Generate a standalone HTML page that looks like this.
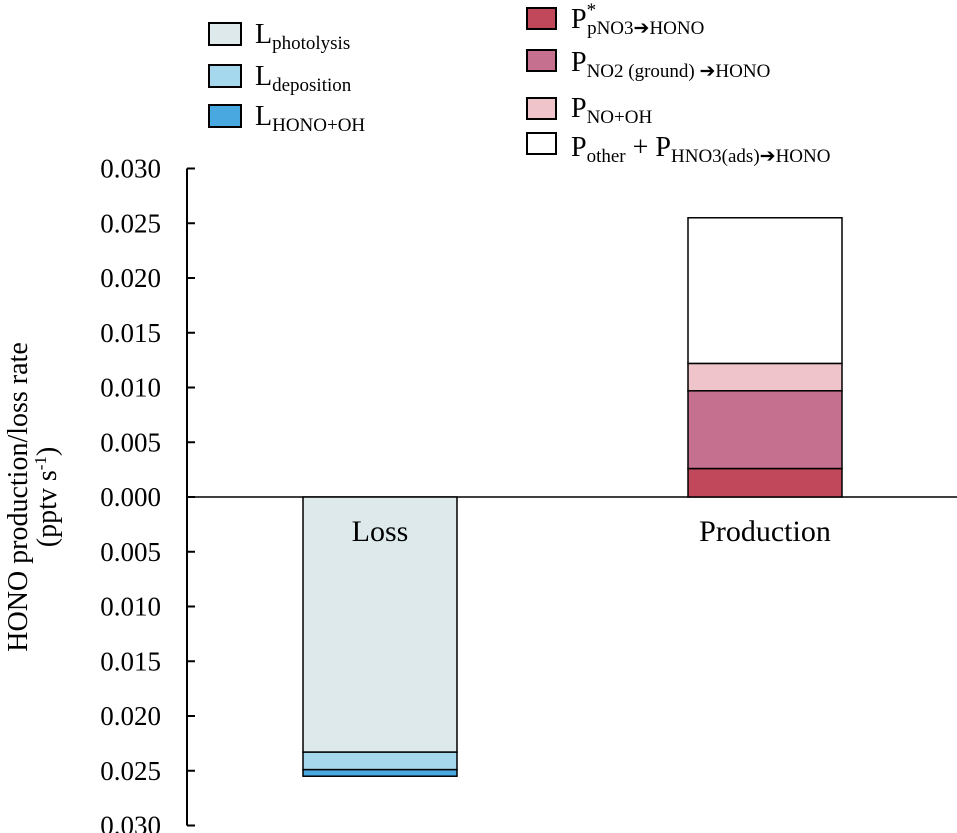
<!DOCTYPE html>
<html><head><meta charset="utf-8"><style>
body{margin:0;background:#fff}
svg{display:block;font-family:"Liberation Serif",serif}
</style></head><body>
<svg width="957" height="833" viewBox="0 0 957 833">
<g id="axis"></g>
<g id="bars"></g>
<g id="legend">
 <rect x="209" y="23" width="32" height="22" fill="#dde9ea" stroke="#000" stroke-width="2"/>
 <text x="255" y="43" font-size="28">L<tspan font-size="19" dy="6">photolysis</tspan></text>
 <rect x="209" y="65" width="32" height="22" fill="#a6d8ed" stroke="#000" stroke-width="2"/>
 <text x="255" y="85" font-size="28">L<tspan font-size="19" dy="6">deposition</tspan></text>
 <rect x="209" y="105" width="32" height="22" fill="#4aa8e0" stroke="#000" stroke-width="2"/>
 <text x="255" y="125" font-size="28">L<tspan font-size="19" dy="6">HONO+OH</tspan></text>
 <rect x="527" y="8" width="29" height="21" fill="#c0485a" stroke="#000" stroke-width="2"/>
 <text x="571" y="28" font-size="28">P<tspan font-size="19" dy="-12">*</tspan><tspan font-size="19" dx="-9" dy="18">pNO3➔HONO</tspan></text>
 <rect x="527" y="50" width="29" height="21" fill="#c4708e" stroke="#000" stroke-width="2"/>
 <text x="571" y="71" font-size="28">P<tspan font-size="19" dy="6">NO2 (ground) ➔HONO</tspan></text>
 <rect x="527" y="98" width="29" height="21" fill="#f0c4cb" stroke="#000" stroke-width="2"/>
 <text x="571" y="117" font-size="28">P<tspan font-size="19" dy="6">NO+OH</tspan></text>
 <rect x="527" y="133" width="29" height="21" fill="#fff" stroke="#000" stroke-width="2"/>
 <text x="571" y="156" font-size="28">P<tspan font-size="19" dy="6">other</tspan><tspan dy="-6"> + P</tspan><tspan font-size="19" dy="6">HNO3(ads)➔HONO</tspan></text>
</g>
<text transform="translate(27,497) rotate(-90)" text-anchor="middle" font-size="28">HONO production/loss rate</text>
<text transform="translate(56,497) rotate(-90)" text-anchor="middle" font-size="28">(pptv s<tspan font-size="17" dy="-10">-1</tspan><tspan dy="10">)</tspan></text>
<script>
const ticks=[0.030,0.025,0.020,0.015,0.010,0.005,0.000,-0.005,-0.010,-0.015,-0.020,-0.025,-0.030];
const categories=["Loss","Production"];
const lossLabels=["photolysis","deposition","hono-oh"];
const lossValues=[0.0233,0.0016,0.0006];
const lossColors=["#dde9ea","#a6d8ed","#4aa8e0"];
const prodLabels=["pno3","no2-ground","no-oh","other"];
const prodValues=[0.0026,0.0071,0.0025,0.0133];
const prodColors=["#c0485a","#c4708e","#f0c4cb","#ffffff"];
const NS="http://www.w3.org/2000/svg";
const y0=497,pxPer=54.75/0.005;
function y(v){return y0-v*pxPer;}
const ax=document.getElementById('axis');
function mk(t,a,p){const e=document.createElementNS(NS,t);for(const k in a)e.setAttribute(k,a[k]);p.appendChild(e);return e;}
mk('line',{x1:187,y1:y(0.030),x2:187,y2:y(-0.030),stroke:'#000','stroke-width':2},ax);
mk('line',{x1:187,y1:y0,x2:957,y2:y0,stroke:'#000','stroke-width':1.5},ax);
ticks.forEach(t=>{
 const l=mk('line',{x1:187,y1:y(t),x2:195,y2:y(t),stroke:'#000','stroke-width':2},ax);
 
 
 const tx=mk('text',{x:161,y:y(t)+9,'text-anchor':'end','font-size':27},ax);
 tx.textContent=Math.abs(t).toFixed(3);
 
 
});
const bars=document.getElementById('bars');
const xs=[303,688],w=154;
let acc=0;
lossValues.forEach((v,i)=>{
 const r=mk('rect',{x:xs[0],y:y(-acc),width:w,height:v*pxPer,fill:lossColors[i],stroke:'#000','stroke-width':1.5},bars);
 
 
 acc+=v;
});
acc=0;
prodValues.forEach((v,i)=>{
 const r=mk('rect',{x:xs[1],y:y(acc+v),width:w,height:v*pxPer,fill:prodColors[i],stroke:'#000','stroke-width':1.5},bars);
 
 
 acc+=v;
});
categories.forEach((c,i)=>{
 const t=mk('text',{x:xs[i]+w/2,y:541,'text-anchor':'middle','font-size':30},bars);
 t.textContent=c;
 
 
});
</script>
</svg>
</body></html>
